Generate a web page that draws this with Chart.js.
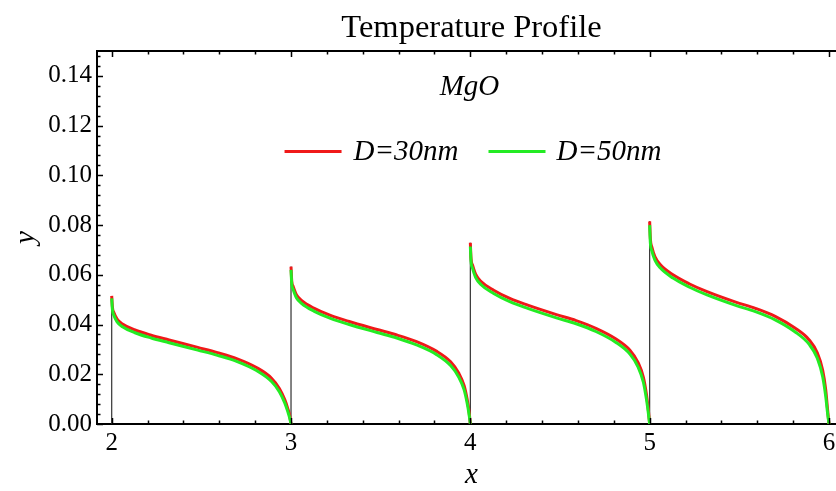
<!DOCTYPE html>
<html>
<head>
<meta charset="utf-8">
<script src="https://cdn.jsdelivr.net/npm/chart.js@4.4.0/dist/chart.umd.min.js"></script>
<style>
html, body { margin: 0; padding: 0; overflow: hidden; background: #fff; }
#wrap { width: 846px; height: 491px; }
</style>
</head>
<body>
<div id="wrap"><canvas id="myChart" width="846" height="491"></canvas></div>
<script>
// where each piece starts on x, and the offsets inside a piece where values were read
const segStarts = [2, 3, 4, 5];
const xOffsets = [0, 0.004, 0.012, 0.03, 0.06, 0.13, 0.22, 0.32, 0.48, 0.59, 0.70, 0.81, 0.89, 0.935, 0.965, 0.982, 0.992, 1];

// D=30nm (red)
const red2 = [0.0515, 0.0470, 0.0448, 0.0422, 0.0402, 0.0378, 0.0357, 0.0338, 0.0308, 0.0287, 0.0262, 0.0226, 0.0185, 0.0143, 0.0098, 0.0062, 0.0035, 0];
const red3 = [0.0633, 0.0575, 0.0553, 0.0520, 0.0496, 0.0465, 0.0437, 0.0413, 0.0380, 0.0358, 0.0331, 0.0293, 0.0250, 0.0205, 0.0155, 0.0100, 0.0055, 0];
const red4 = [0.0729, 0.0665, 0.0640, 0.0602, 0.0573, 0.0538, 0.0505, 0.0478, 0.0440, 0.0416, 0.0385, 0.0343, 0.0297, 0.0248, 0.0188, 0.0120, 0.0062, 0];
const red5 = [0.0815, 0.0745, 0.0712, 0.0672, 0.0640, 0.0600, 0.0564, 0.0532, 0.0490, 0.0465, 0.0433, 0.0386, 0.0338, 0.0286, 0.0216, 0.0137, 0.0060, 0];

// D=50nm (green)
const green2 = [0.0505, 0.0460, 0.0437, 0.0411, 0.0391, 0.0367, 0.0346, 0.0327, 0.0297, 0.0276, 0.0251, 0.0214, 0.0172, 0.0130, 0.0085, 0.0050, 0.0026, 0];
const green3 = [0.0620, 0.0563, 0.0541, 0.0508, 0.0484, 0.0453, 0.0425, 0.0401, 0.0368, 0.0346, 0.0318, 0.0280, 0.0235, 0.0189, 0.0138, 0.0085, 0.0043, 0];
const green4 = [0.0714, 0.0652, 0.0627, 0.0589, 0.0560, 0.0525, 0.0492, 0.0465, 0.0427, 0.0403, 0.0372, 0.0329, 0.0281, 0.0230, 0.0168, 0.0100, 0.0048, 0];
const green5 = [0.0800, 0.0728, 0.0697, 0.0658, 0.0627, 0.0587, 0.0551, 0.0519, 0.0477, 0.0452, 0.0419, 0.0371, 0.0320, 0.0265, 0.0190, 0.0110, 0.0045, 0];

const seriesLabels = ['D=30nm', 'D=50nm'];
const legendTitle = 'MgO';
const xTicks = [2, 3, 4, 5, 6];
const yTicks = [0, 0.02, 0.04, 0.06, 0.08, 0.10, 0.12, 0.14];

const redSegs = [red2, red3, red4, red5];
const greenSegs = [green2, green3, green4, green5];
const RED = 'rgb(240,25,25)';
const GREEN = 'rgb(35,235,35)';
const SERIF = "'Liberation Serif', 'Times New Roman', serif";

Chart.defaults.font.family = SERIF;
Chart.defaults.color = '#000';

function piece(ys, start) {
    return xOffsets.map((o, i) => ({ x: start + o, y: ys[i] }));
}

let datasets = [];
// thin black jumps at the start of each piece
let jumps = [];
segStarts.forEach((s, i) => {
    jumps.push({ x: s, y: 0 }, { x: s, y: redSegs[i][0] }, { x: s + 0.5, y: null });
});
datasets.push({ data: jumps, borderColor: '#333', borderWidth: 1.2, pointRadius: 0, order: 3 });

segStarts.forEach((s, i) => {
    datasets.push({
        label: seriesLabels[0], data: piece(redSegs[i], s),
        borderColor: RED, borderWidth: 3, pointRadius: 0,
        cubicInterpolationMode: 'monotone', order: 2
    });
    datasets.push({
        label: seriesLabels[1], data: piece(greenSegs[i], s),
        borderColor: GREEN, borderWidth: 3, pointRadius: 0,
        cubicInterpolationMode: 'monotone', order: 1
    });
});

// frame top line, inward ticks, and the legend inside the plot
const framePlugin = {
    id: 'frame',
    afterDraw(chart) {
        const ctx = chart.ctx;
        const a = chart.chartArea;
        const xs = chart.scales.x, ys = chart.scales.y;
        ctx.save();
        ctx.strokeStyle = '#000';
        ctx.lineWidth = 2;
        ctx.beginPath();
        ctx.moveTo(a.left - 1, a.top);
        ctx.lineTo(a.right, a.top);
        ctx.stroke();

        ctx.lineWidth = 1.5;
        ctx.beginPath();
        for (let k = 0; k <= 25; k++) {
            const v = 2 + k * 0.2;
            const px = Math.round(xs.getPixelForValue(v)) + 0.5;
            const len = (k % 5 === 0) ? 6 : 3.5;
            ctx.moveTo(px, a.bottom);
            ctx.lineTo(px, a.bottom - len);
            ctx.moveTo(px, a.top);
            ctx.lineTo(px, a.top + len);
        }
        for (let k = 0; k <= 37; k++) {
            const v = k * 0.004;
            const py = Math.round(ys.getPixelForValue(v)) + 0.5;
            const len = (k % 5 === 0) ? 6 : 3.5;
            ctx.moveTo(a.left, py);
            ctx.lineTo(a.left + len, py);
        }
        ctx.stroke();

        // legend
        const cx = (a.left + a.right) / 2;
        ctx.fillStyle = '#000';
        ctx.font = 'italic 29px ' + SERIF;
        ctx.textAlign = 'center';
        ctx.textBaseline = 'alphabetic';
        ctx.fillText(legendTitle, cx - 2, 95);

        const w1 = ctx.measureText(seriesLabels[0]).width;
        const w2 = ctx.measureText(seriesLabels[1]).width;
        const lineLen = 57;
        const total = lineLen + 12 + w1 + 30 + lineLen + 11 + w2;
        let x0 = cx + 1.5 - total / 2;
        const ly = 151.5;
        ctx.textAlign = 'left';
        ctx.lineWidth = 3;
        ctx.strokeStyle = RED;
        ctx.beginPath(); ctx.moveTo(x0, ly); ctx.lineTo(x0 + lineLen, ly); ctx.stroke();
        x0 += lineLen + 12;
        ctx.fillText(seriesLabels[0], x0, 160);
        x0 += w1 + 30;
        ctx.strokeStyle = GREEN;
        ctx.beginPath(); ctx.moveTo(x0, ly); ctx.lineTo(x0 + lineLen, ly); ctx.stroke();
        x0 += lineLen + 11;
        ctx.fillText(seriesLabels[1], x0, 160);
        ctx.restore();
    }
};

const ctx = document.getElementById('myChart').getContext('2d');
const myChart = new Chart(ctx, {
    type: 'line',
    data: { datasets: datasets },
    options: {
        responsive: false,
        animation: false,
        spanGaps: false,
        layout: { padding: 0 },
        plugins: {
            legend: { display: false },
            tooltip: { enabled: false },
            title: {
                display: true,
                text: 'Temperature Profile',
                fullSize: false,
                font: { size: 32.5, weight: 'normal' },
                padding: { top: 9, bottom: 3 }
            }
        },
        scales: {
            x: {
                type: 'linear',
                min: 1.918,
                max: 6.095,
                grid: { display: false, drawTicks: false },
                border: { display: true, color: '#000', width: 2 },
                afterBuildTicks: s => { s.ticks = xTicks.map(v => ({ value: v })); },
                afterFit: s => { s.height = 67; s.paddingLeft = 0; s.paddingRight = 0; },
                ticks: {
                    padding: 4,
                    autoSkip: false,
                    maxRotation: 0,
                    font: { size: 25 },
                    callback: v => String(v)
                },
                title: {
                    display: true,
                    text: 'x',
                    font: { size: 29, style: 'italic', lineHeight: 1.1 },
                    padding: { top: 0, bottom: 0 }
                }
            },
            y: {
                min: 0,
                max: 0.15,
                grid: { display: false, drawTicks: false },
                border: { display: true, color: '#000', width: 2 },
                afterBuildTicks: s => { s.ticks = yTicks.map(v => ({ value: v })); },
                afterFit: s => { s.width = 97; s.paddingTop = 0; s.paddingBottom = 0; },
                ticks: {
                    padding: 5,
                    font: { size: 25 },
                    callback: v => Number(v).toFixed(2)
                },
                title: {
                    display: true,
                    text: 'y',
                    font: { size: 29, style: 'italic' },
                    padding: { top: 9, bottom: 0 }
                }
            }
        }
    },
    plugins: [framePlugin]
});
</script>
</body>
</html>
